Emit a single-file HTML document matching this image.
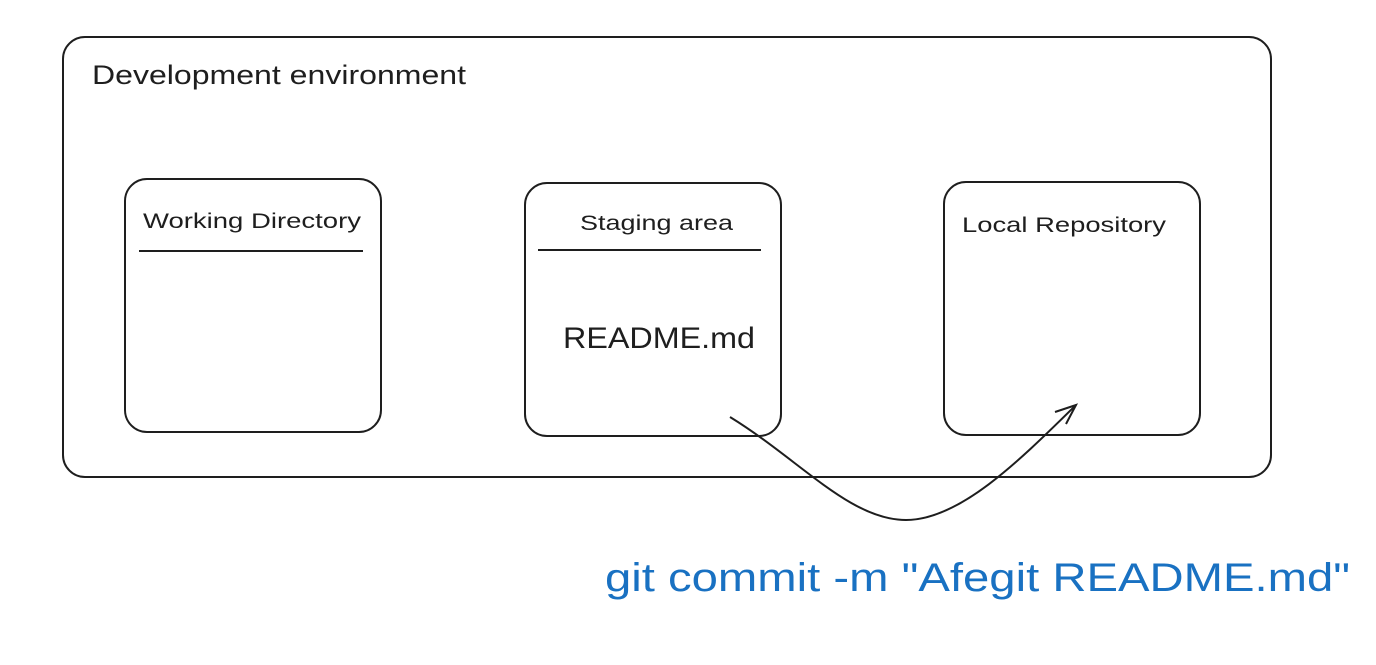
<!DOCTYPE html>
<html><head><meta charset="utf-8"><style>
body{margin:0;background:#fff;width:1376px;height:665px;overflow:hidden}
svg{display:block}
text{font-family:"Liberation Sans",sans-serif;fill:#1e1e1e}
</style></head><body>
<svg width="1376" height="665" viewBox="0 0 1376 665" xmlns="http://www.w3.org/2000/svg">
<g fill="none" stroke="#1e1e1e" stroke-width="2">
<rect x="63" y="37" width="1208" height="440" rx="22"/>
<rect x="125" y="179" width="256" height="253" rx="22"/>
<rect x="525" y="183" width="256" height="253" rx="22"/>
<rect x="944" y="182" width="256" height="253" rx="22"/>
<line x1="139" y1="251" x2="363" y2="251"/>
<line x1="538" y1="250" x2="761" y2="250"/>
<path d="M730 417 C800 460 850 520 906 520 C960 520 1020 460 1076 405"/>
<path d="M1055 412 L1076 405 L1066 424"/>
</g>
<text x="92" y="84" font-size="27" textLength="374" lengthAdjust="spacingAndGlyphs">Development environment</text>
<text x="143" y="228" font-size="21" textLength="218" lengthAdjust="spacingAndGlyphs">Working Directory</text>
<text x="580" y="230" font-size="21" textLength="153" lengthAdjust="spacingAndGlyphs">Staging area</text>
<text x="962" y="232" font-size="21" textLength="204" lengthAdjust="spacingAndGlyphs">Local Repository</text>
<text x="563" y="348" font-size="30" textLength="192" lengthAdjust="spacingAndGlyphs">README.md</text>
<text x="605" y="591" font-size="40" textLength="745" lengthAdjust="spacingAndGlyphs" style="fill:#1971c2">git commit -m "Afegit README.md"</text>
</svg>
</body></html>
